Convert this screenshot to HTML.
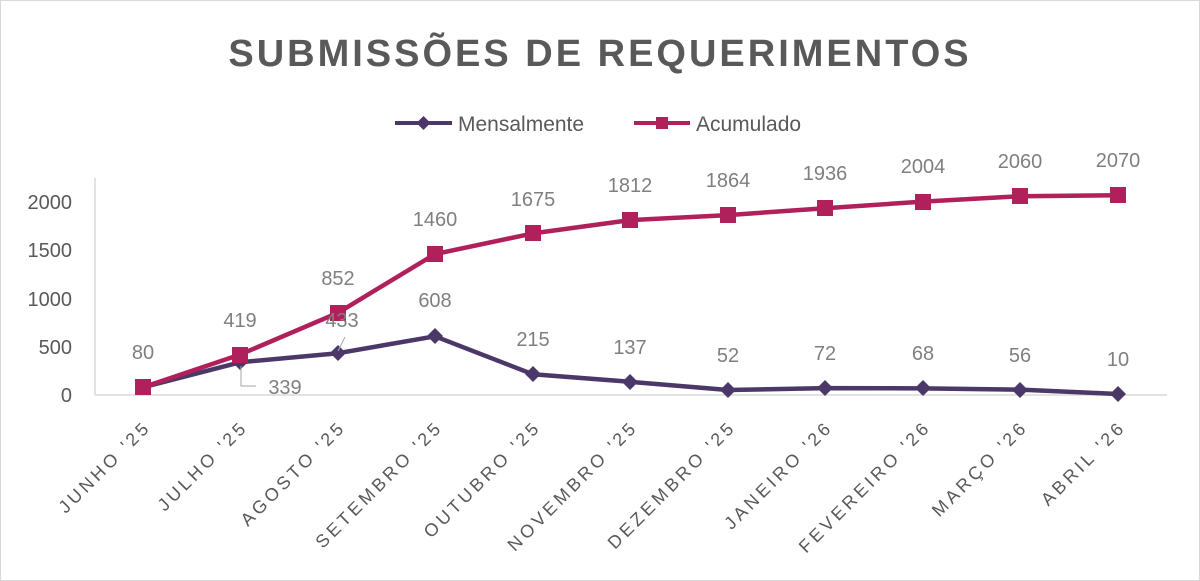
<!DOCTYPE html>
<html><head><meta charset="utf-8"><style>
html,body{margin:0;padding:0;background:#fff}
svg{display:block;font-family:"Liberation Sans",sans-serif}
</style></head><body>
<svg width="1200" height="581" viewBox="0 0 1200 581" xmlns="http://www.w3.org/2000/svg">
<rect x="0.5" y="0.5" width="1199" height="580" fill="#fff" stroke="#d9d9d9"/>
<text x="600" y="66" text-anchor="middle" font-size="38" font-weight="bold" fill="#595959" letter-spacing="3">SUBMISSÕES DE REQUERIMENTOS</text>
<!-- legend -->
<line x1="395" y1="123" x2="452" y2="123" stroke="#4b3869" stroke-width="4"/>
<path d="M423.5 116 L430.5 123 L423.5 130 L416.5 123Z" fill="#4b3869"/>
<text x="458" y="131" font-size="21" fill="#595959">Mensalmente</text>
<line x1="634" y1="123" x2="690" y2="123" stroke="#b0205a" stroke-width="4"/>
<rect x="656" y="117" width="12" height="12" fill="#b0205a"/>
<text x="696" y="131" font-size="21" fill="#595959">Acumulado</text>
<!-- axes -->
<line x1="95" y1="178" x2="95" y2="395" stroke="#d9d9d9" stroke-width="1.5"/>
<line x1="95" y1="395" x2="1167" y2="395" stroke="#d9d9d9" stroke-width="1.5"/>
<g font-size="20" fill="#595959" text-anchor="end">
<text x="72" y="402">0</text><text x="72" y="354">500</text><text x="72" y="306">1000</text><text x="72" y="257">1500</text><text x="72" y="209">2000</text>
</g>
<!-- x labels -->
<g font-size="18" fill="#595959" text-anchor="end" letter-spacing="3.5">
<text transform="translate(152,428) rotate(-45)">JUNHO '25</text>
<text transform="translate(249,428) rotate(-45)">JULHO '25</text>
<text transform="translate(347,428) rotate(-45)">AGOSTO '25</text>
<text transform="translate(444,428) rotate(-45)">SETEMBRO '25</text>
<text transform="translate(542,428) rotate(-45)">OUTUBRO '25</text>
<text transform="translate(639,428) rotate(-45)">NOVEMBRO '25</text>
<text transform="translate(737,428) rotate(-45)">DEZEMBRO '25</text>
<text transform="translate(834,428) rotate(-45)">JANEIRO '26</text>
<text transform="translate(932,428) rotate(-45)">FEVEREIRO '26</text>
<text transform="translate(1029,428) rotate(-45)">MARÇO '26</text>
<text transform="translate(1127,428) rotate(-45)">ABRIL '26</text>
</g>
<!-- mensal -->
<polyline fill="none" stroke="#4b3869" stroke-width="4.5" stroke-linejoin="round" points="143,387.3 240,362.3 338,353.2 435,336.3 533,374.3 630,381.8 728,390 825,388.1 923,388.4 1020,389.6 1118,394"/>
<g fill="#4b3869">
<path d="M143 379 l8 8 l-8 8 l-8 -8z"/><path d="M240 354 l8 8 l-8 8 l-8 -8z"/><path d="M338 345 l8 8 l-8 8 l-8 -8z"/><path d="M435 328 l8 8 l-8 8 l-8 -8z"/><path d="M533 366 l8 8 l-8 8 l-8 -8z"/><path d="M630 374 l8 8 l-8 8 l-8 -8z"/><path d="M728 382 l8 8 l-8 8 l-8 -8z"/><path d="M825 380 l8 8 l-8 8 l-8 -8z"/><path d="M923 380 l8 8 l-8 8 l-8 -8z"/><path d="M1020 382 l8 8 l-8 8 l-8 -8z"/><path d="M1118 386 l8 8 l-8 8 l-8 -8z"/>
</g>
<!-- acumulado -->
<polyline fill="none" stroke="#b0205a" stroke-width="4.5" stroke-linejoin="round" points="143,387.3 240,354.6 338,312.8 435,254.1 533,233.4 630,220.1 728,215.1 825,208.2 923,201.6 1020,196.2 1118,195.2"/>
<g fill="#b0205a">
<rect x="135" y="379" width="16" height="16"/><rect x="232" y="347" width="16" height="16"/><rect x="330" y="305" width="16" height="16"/><rect x="427" y="246" width="16" height="16"/><rect x="525" y="225" width="16" height="16"/><rect x="622" y="212" width="16" height="16"/><rect x="720" y="207" width="16" height="16"/><rect x="817" y="200" width="16" height="16"/><rect x="915" y="194" width="16" height="16"/><rect x="1012" y="188" width="16" height="16"/><rect x="1110" y="187" width="16" height="16"/>
</g>
<!-- leader lines -->
<polyline points="241,366 241,386 256,386" fill="none" stroke="#a6a6a6" stroke-width="1"/>
<line x1="338" y1="351" x2="345" y2="337" stroke="#a6a6a6" stroke-width="1"/>
<!-- data labels -->
<g font-size="20" fill="#7f7f7f" text-anchor="middle">
<text x="143" y="359">80</text>
<text x="240" y="327">419</text><text x="338" y="285">852</text><text x="435" y="226">1460</text><text x="533" y="206">1675</text><text x="630" y="192">1812</text><text x="728" y="187">1864</text><text x="825" y="180">1936</text><text x="923" y="173">2004</text><text x="1020" y="168">2060</text><text x="1118" y="167">2070</text>
<text x="285" y="394">339</text><text x="342" y="327">433</text><text x="435" y="307">608</text><text x="533" y="346">215</text><text x="630" y="354">137</text><text x="728" y="362">52</text><text x="825" y="360">72</text><text x="923" y="360">68</text><text x="1020" y="362">56</text><text x="1118" y="366">10</text>
</g>
</svg>
</body></html>
